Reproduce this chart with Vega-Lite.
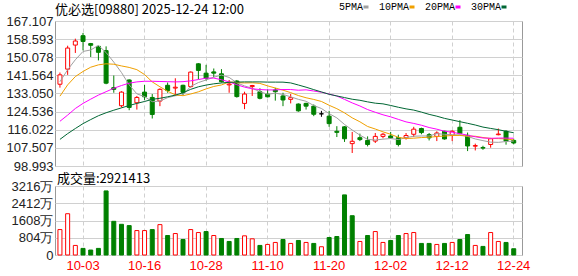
{
"$schema": "https://vega.github.io/schema/vega-lite/v6.json",
"autosize": {"type": "none"},
"padding": {"left": 55, "top": 21, "right": 523, "bottom": 255},
"background": "#ffffff",
"bounds": "flush",
"spacing": 20,
"config": {
 "view": {"stroke": "#999999", "strokeWidth": 1},
 "axis": {"labelFont": "Liberation Sans", "labelFontSize": 13, "labelColor": "#222222", "domain": false, "ticks": false, "gridColor": "#d0d0d0", "gridWidth": 1, "title": null},
 "axisY": {"grid": true, "labelOverlap": false, "labelFlush": false, "labelPadding": 2}
},
"data": {"values": [
{"d":"2025-09-29","o":137.4,"h":142.9,"l":135.8,"c":141.8,"pc":137.0,"v":1185,"MA5":138.6,"MA10":131.8,"MA20":120.0,"MA30":111.5},
{"d":"2025-09-30","o":144.5,"h":155.5,"l":141.8,"c":154.4,"pc":141.8,"v":1924,"MA5":144.2,"MA10":137.1,"MA20":122.9,"MA30":114.2},
{"d":"2025-10-02","o":155.8,"h":158.8,"l":152.1,"c":157.7,"pc":154.4,"v":446,"MA5":148.9,"MA10":141.0,"MA20":126.0,"MA30":116.6},
{"d":"2025-10-03","o":160.2,"h":161.5,"l":153.3,"c":157.5,"pc":157.7,"v":308,"MA5":152.8,"MA10":143.4,"MA20":128.4,"MA30":118.9},
{"d":"2025-10-06","o":156.5,"h":156.8,"l":150.2,"c":155.7,"pc":157.5,"v":231,"MA5":153.5,"MA10":145.4,"MA20":130.4,"MA30":120.8},
{"d":"2025-10-08","o":155.2,"h":155.5,"l":148.6,"c":152.4,"pc":155.7,"v":308,"MA5":155.6,"MA10":146.5,"MA20":132.3,"MA30":122.6},
{"d":"2025-10-09","o":153.2,"h":155.2,"l":137.4,"c":137.9,"pc":152.4,"v":2986,"MA5":152.3,"MA10":147.0,"MA20":133.9,"MA30":124.0},
{"d":"2025-10-10","o":135.8,"h":141.5,"l":133.4,"c":135.0,"pc":137.9,"v":1570,"MA5":147.8,"MA10":146.8,"MA20":135.5,"MA30":125.2},
{"d":"2025-10-13","o":127.3,"h":134.1,"l":126.5,"c":133.7,"pc":135.0,"v":1431,"MA5":142.9,"MA10":146.0,"MA20":136.8,"MA30":126.3},
{"d":"2025-10-14","o":139.4,"h":139.7,"l":125.2,"c":126.5,"pc":133.7,"v":1370,"MA5":137.1,"MA10":145.3,"MA20":137.9,"MA30":127.4},
{"d":"2025-10-15","o":128.7,"h":131.9,"l":125.5,"c":131.2,"pc":126.5,"v":1139,"MA5":132.9,"MA10":144.25,"MA20":138.5,"MA30":128.4},
{"d":"2025-10-16","o":133.7,"h":137.1,"l":130.0,"c":131.5,"pc":131.2,"v":1139,"MA5":131.6,"MA10":141.96,"MA20":138.8,"MA30":129.3},
{"d":"2025-10-17","o":131.2,"h":132.8,"l":121.3,"c":123.2,"pc":131.5,"v":1185,"MA5":129.2,"MA10":138.51,"MA20":138.8,"MA30":130.3},
{"d":"2025-10-20","o":129.5,"h":135.5,"l":127.1,"c":135.0,"pc":123.2,"v":1416,"MA5":129.5,"MA10":136.21,"MA20":138.7,"MA30":130.8},
{"d":"2025-10-21","o":136.9,"h":138.2,"l":133.4,"c":134.4,"pc":135.0,"v":908,"MA5":131.1,"MA10":134.08,"MA20":138.6,"MA30":131.5},
{"d":"2025-10-22","o":135.6,"h":140.2,"l":131.9,"c":136.0,"pc":134.4,"v":1000,"MA5":132.0,"MA10":132.44,"MA20":138.5,"MA30":132.3},
{"d":"2025-10-23","o":136.9,"h":137.2,"l":132.3,"c":133.6,"pc":136.0,"v":723,"MA5":132.4,"MA10":132.01,"MA20":138.6,"MA30":133.4},
{"d":"2025-10-24","o":136.3,"h":143.4,"l":135.8,"c":143.1,"pc":133.6,"v":1185,"MA5":136.4,"MA10":132.82,"MA20":139.0,"MA30":135.0},
{"d":"2025-10-27","o":147.0,"h":147.3,"l":139.7,"c":143.9,"pc":143.1,"v":1047,"MA5":138.2,"MA10":133.84,"MA20":139.6,"MA30":136.2},
{"d":"2025-10-28","o":142.6,"h":146.5,"l":139.1,"c":140.2,"pc":143.9,"v":1093,"MA5":139.4,"MA10":135.21,"MA20":140.26,"MA30":137.0},
{"d":"2025-10-30","o":143.2,"h":144.8,"l":140.7,"c":142.6,"pc":140.2,"v":908,"MA5":140.7,"MA10":136.35,"MA20":140.30,"MA30":137.6},
{"d":"2025-10-31","o":142.3,"h":144.5,"l":138.2,"c":138.6,"pc":142.6,"v":770,"MA5":141.7,"MA10":137.06,"MA20":139.51,"MA30":138.0},
{"d":"2025-11-03","o":137.1,"h":139.4,"l":133.4,"c":137.5,"pc":138.6,"v":631,"MA5":140.6,"MA10":138.49,"MA20":138.50,"MA30":138.3},
{"d":"2025-11-04","o":138.9,"h":139.4,"l":131.1,"c":131.6,"pc":137.5,"v":770,"MA5":138.1,"MA10":138.15,"MA20":137.18,"MA30":138.4},
{"d":"2025-11-05","o":128.4,"h":133.9,"l":125.7,"c":132.8,"pc":131.6,"v":893,"MA5":136.6,"MA10":137.99,"MA20":136.04,"MA30":138.5},
{"d":"2025-11-06","o":136.3,"h":137.1,"l":131.9,"c":136.8,"pc":132.8,"v":754,"MA5":135.5,"MA10":138.07,"MA20":135.26,"MA30":138.5},
{"d":"2025-11-07","o":133.9,"h":135.5,"l":130.3,"c":130.8,"pc":136.8,"v":446,"MA5":133.9,"MA10":137.79,"MA20":134.90,"MA30":138.5},
{"d":"2025-11-10","o":132.8,"h":135.0,"l":131.2,"c":131.5,"pc":130.8,"v":492,"MA5":132.7,"MA10":136.63,"MA20":134.73,"MA30":138.4},
{"d":"2025-11-11","o":134.7,"h":135.7,"l":129.7,"c":133.9,"pc":131.5,"v":585,"MA5":133.2,"MA10":135.63,"MA20":134.74,"MA30":138.4},
{"d":"2025-11-12","o":131.9,"h":133.4,"l":127.1,"c":130.0,"pc":133.9,"v":723,"MA5":132.6,"MA10":134.61,"MA20":134.91,"MA30":138.38},
{"d":"2025-11-13","o":130.3,"h":132.8,"l":128.4,"c":131.1,"pc":130.0,"v":539,"MA5":131.5,"MA10":133.46,"MA20":134.91,"MA30":138.02},
{"d":"2025-11-14","o":128.1,"h":128.4,"l":124.5,"c":124.9,"pc":131.1,"v":677,"MA5":130.3,"MA10":132.09,"MA20":134.58,"MA30":137.04},
{"d":"2025-11-17","o":128.4,"h":128.7,"l":125.5,"c":127.1,"pc":124.9,"v":585,"MA5":129.4,"MA10":131.05,"MA20":134.77,"MA30":136.02},
{"d":"2025-11-18","o":127.1,"h":127.9,"l":122.4,"c":123.3,"pc":127.1,"v":539,"MA5":127.4,"MA10":130.26,"MA20":134.21,"MA30":134.87},
{"d":"2025-11-19","o":123.5,"h":124.9,"l":122.1,"c":123.5,"pc":123.3,"v":385,"MA5":126.0,"MA10":129.31,"MA20":133.65,"MA30":133.79},
{"d":"2025-11-20","o":122.4,"h":124.9,"l":117.4,"c":118.9,"pc":123.5,"v":816,"MA5":123.6,"MA10":127.52,"MA20":132.80,"MA30":132.68},
{"d":"2025-11-21","o":115.3,"h":117.7,"l":112.6,"c":114.8,"pc":118.9,"v":862,"MA5":121.6,"MA10":125.92,"MA20":131.86,"MA30":131.91},
{"d":"2025-11-24","o":117.4,"h":117.7,"l":110.3,"c":111.8,"pc":114.8,"v":2801,"MA5":118.5,"MA10":123.95,"MA20":130.29,"MA30":131.13},
{"d":"2025-11-25","o":109.5,"h":115.0,"l":105.1,"c":110.6,"pc":111.8,"v":1831,"MA5":115.9,"MA10":121.62,"MA20":128.63,"MA30":130.36},
{"d":"2025-11-26","o":112.3,"h":114.2,"l":110.7,"c":111.4,"pc":110.6,"v":631,"MA5":113.5,"MA10":119.76,"MA20":127.19,"MA30":129.86},
{"d":"2025-11-27","o":111.0,"h":112.9,"l":108.2,"c":109.1,"pc":111.4,"v":908,"MA5":111.5,"MA10":117.56,"MA20":125.51,"MA30":129.12},
{"d":"2025-11-28","o":110.7,"h":114.5,"l":109.8,"c":112.9,"pc":109.1,"v":1093,"MA5":111.2,"MA10":116.36,"MA20":124.23,"MA30":128.50},
{"d":"2025-12-01","o":112.9,"h":114.5,"l":112.0,"c":113.9,"pc":112.9,"v":585,"MA5":111.6,"MA10":115.04,"MA20":123.05,"MA30":128.19},
{"d":"2025-12-02","o":113.1,"h":115.0,"l":111.8,"c":112.2,"pc":113.9,"v":677,"MA5":111.9,"MA10":113.89,"MA20":122.08,"MA30":127.43},
{"d":"2025-12-03","o":112.3,"h":113.7,"l":108.2,"c":109.1,"pc":112.2,"v":908,"MA5":111.4,"MA10":112.47,"MA20":120.89,"MA30":126.59},
{"d":"2025-12-04","o":112.3,"h":114.5,"l":111.4,"c":113.3,"pc":109.1,"v":1000,"MA5":112.3,"MA10":111.91,"MA20":119.72,"MA30":125.83},
{"d":"2025-12-05","o":113.9,"h":117.4,"l":112.6,"c":116.3,"pc":113.3,"v":1047,"MA5":113.0,"MA10":112.06,"MA20":118.99,"MA30":125.26},
{"d":"2025-12-08","o":116.6,"h":117.0,"l":113.9,"c":114.7,"pc":116.3,"v":539,"MA5":113.1,"MA10":112.35,"MA20":118.15,"MA30":124.31},
{"d":"2025-12-09","o":113.7,"h":114.5,"l":111.0,"c":112.2,"pc":114.7,"v":539,"MA5":113.1,"MA10":112.51,"MA20":117.07,"MA30":123.25},
{"d":"2025-12-10","o":112.9,"h":115.3,"l":110.7,"c":114.5,"pc":112.2,"v":492,"MA5":114.2,"MA10":112.82,"MA20":116.29,"MA30":122.40},
{"d":"2025-12-11","o":115.3,"h":115.5,"l":111.4,"c":111.7,"pc":114.5,"v":539,"MA5":113.9,"MA10":113.08,"MA20":115.32,"MA30":121.37},
{"d":"2025-12-12","o":113.4,"h":115.8,"l":110.7,"c":115.3,"pc":111.7,"v":585,"MA5":113.7,"MA10":113.32,"MA20":114.84,"MA30":120.59},
{"d":"2025-12-15","o":117.2,"h":120.5,"l":113.9,"c":114.2,"pc":115.3,"v":723,"MA5":113.6,"MA10":113.35,"MA20":114.20,"MA30":119.81},
{"d":"2025-12-16","o":113.4,"h":114.7,"l":106.0,"c":108.4,"pc":114.2,"v":954,"MA5":112.9,"MA10":113.03,"MA20":113.46,"MA30":119.06},
{"d":"2025-12-17","o":108.3,"h":109.5,"l":106.3,"c":108.6,"pc":108.4,"v":446,"MA5":111.7,"MA10":112.97,"MA20":112.72,"MA30":118.25},
{"d":"2025-12-18","o":107.7,"h":108.5,"l":106.6,"c":107.4,"pc":108.6,"v":400,"MA5":110.9,"MA10":112.38,"MA20":112.15,"MA30":117.27},
{"d":"2025-12-19","o":109.1,"h":112.2,"l":107.6,"c":111.8,"pc":107.4,"v":1047,"MA5":110.2,"MA10":111.93,"MA20":112.00,"MA30":116.64},
{"d":"2025-12-22","o":113.7,"h":116.6,"l":113.4,"c":114.0,"pc":111.8,"v":631,"MA5":110.1,"MA10":111.86,"MA20":112.11,"MA30":116.05},
{"d":"2025-12-23","o":115.3,"h":115.8,"l":109.0,"c":110.7,"pc":114.0,"v":585,"MA5":110.5,"MA10":111.71,"MA20":112.11,"MA30":115.28},
{"d":"2025-12-24","o":111.0,"h":111.8,"l":109.2,"c":109.8,"pc":110.7,"v":292,"MA5":110.7,"MA10":111.24,"MA20":112.03,"MA30":114.61}
]},
"vconcat": [
{
 "width": 467, "height": 145,
 "title": {"text": "优必选[09880] 2025-12-24 12:00", "anchor": "start", "frame": "group", "font": "Noto Sans CJK SC", "fontSize": 13, "fontWeight": "normal", "color": "#000000", "baseline": "bottom", "offset": 2, "dy": 17},
 "encoding": {
  "x": {"field": "d", "type": "ordinal", "scale": {"type": "band", "paddingInner": 0, "paddingOuter": 0.36, "align": 0.2},
        "axis": {"values": ["2025-10-03","2025-10-16","2025-10-28","2025-11-10","2025-11-20","2025-12-02","2025-12-12","2025-12-24"], "labels": false, "grid": true, "gridDash": [4,3], "bandPosition": 0.5}}
 },
 "layer": [
  {"mark": {"type": "rule", "strokeWidth": 1},
   "encoding": {
    "y": {"field": "l", "type": "quantitative", "scale": {"domain": [98.993, 167.107], "nice": false, "zero": false},
          "axis": {"values": [98.993,107.507,116.022,124.536,133.050,141.564,150.078,158.593,167.107], "format": ".3f", "labelPadding": 2, "labelFlush": false, "labelOverlap": false, "grid": true}},
    "y2": {"field": "h"},
    "color": {"condition": [{"test": "datum.c > datum.o", "value": "#ff0000"}, {"test": "datum.c < datum.o", "value": "#008000"}], "value": "#000000"}
   }},
  {"mark": {"type": "bar", "width": 4, "strokeWidth": 1},
   "encoding": {
    "y": {"field": "o", "type": "quantitative",
          "axis": {"values": [98.993,107.507,116.022,124.536,133.050,141.564,150.078,158.593,167.107], "format": ".3f", "labelPadding": 2, "labelFlush": false, "labelOverlap": false, "grid": true}},
    "y2": {"field": "c"},
    "fill": {"condition": [{"test": "datum.c > datum.o", "value": "#ffffff"}, {"test": "datum.c < datum.o", "value": "#008000"}], "value": "#000000"},
    "stroke": {"condition": [{"test": "datum.c > datum.o", "value": "#ff0000"}, {"test": "datum.c < datum.o", "value": "#008000"}], "value": "#000000"}
   }},
  {"transform": [{"fold": ["MA5","MA10","MA20","MA30"], "as": ["ma","val"]}],
   "mark": {"type": "line", "strokeWidth": 1},
   "encoding": {
    "y": {"field": "val", "type": "quantitative",
          "axis": {"values": [98.993,107.507,116.022,124.536,133.050,141.564,150.078,158.593,167.107], "format": ".3f", "labelPadding": 2, "labelFlush": false, "labelOverlap": false, "grid": true}},
    "color": {"field": "ma", "type": "nominal",
      "scale": {"domain": ["MA5","MA10","MA20","MA30"], "range": ["#a0a0a0","#f0a000","#ff00ff","#006633"]},
      "legend": {"orient": "none", "legendX": 306, "legendY": -19, "direction": "horizontal", "title": null,
        "symbolType": "stroke", "symbolSize": 25, "symbolStrokeWidth": 3,
        "labelFont": "Liberation Mono", "labelFontSize": 10, "labelColor": "#000000",
        "labelAlign": "right", "labelOffset": -8, "columnPadding": 3,
        "labelExpr": "slice(datum.label,2) + 'PMA'"}}
   }}
 ]
},
{
 "width": 467, "height": 69,
 "title": {"text": "成交量:2921413", "anchor": "start", "frame": "group", "font": "Noto Sans CJK SC", "fontSize": 13, "fontWeight": "normal", "color": "#000000", "baseline": "bottom", "offset": 2, "dx": 2, "dy": 21},
 "mark": {"type": "bar", "width": 4, "strokeWidth": 1},
 "encoding": {
  "x": {"field": "d", "type": "ordinal", "scale": {"type": "band", "paddingInner": 0, "paddingOuter": 0.36, "align": 0.2},
        "axis": {"values": ["2025-10-03","2025-10-16","2025-10-28","2025-11-10","2025-11-20","2025-12-02","2025-12-12","2025-12-24"], "labelExpr": "slice(datum.label,5)", "labelColor": "#ff0000", "labelAngle": 0, "labelPadding": 4, "grid": true, "gridDash": [4,3], "bandPosition": 0.5}},
  "y": {"field": "v", "type": "quantitative", "scale": {"domain": [0, 3216], "nice": false},
        "axis": {"values": [0,804,1608,2412,3216], "format": "d", "labelExpr": "datum.value == 0 ? '0' : datum.label + '万'", "labelPadding": 2, "labelFlush": false, "labelOverlap": false, "grid": true}},
  "fill": {"condition": {"test": "datum.c >= datum.pc", "value": "#ffffff"}, "value": "#008000"},
  "stroke": {"condition": {"test": "datum.c >= datum.pc", "value": "#ff0000"}, "value": "#008000"}
 }
}
]
}
